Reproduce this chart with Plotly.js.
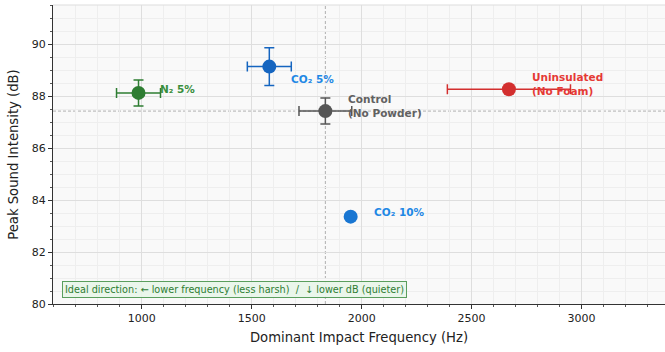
<!DOCTYPE html>
<html>
<head>
<meta charset="utf-8">
<script src="https://cdn.plot.ly/plotly-3.0.1.min.js"></script>
<style>html,body{margin:0;padding:0;background:#fff;}#chart{width:665px;height:352px;}</style>
</head>
<body>
<div id="chart"></div>
<script>
const labels = ['N₂ 5%', 'CO₂ 5%', 'Control<br>(No Powder)', 'Uninsulated<br>(No Foam)', 'CO₂ 10%'];
const freq = [985, 1580, 1835, 2670, 1950];
const freqErr = [100, 100, 120, 280, 0];
const db = [88.12, 89.13, 87.42, 88.26, 83.36];
const dbErr = [0.5, 0.73, 0.5, 0, 0];
const markerColors = ['#2e7d32', '#1565c0', '#555555', '#d32f2f', '#1976d2'];
const labelColors = ['#388e3c', '#1e88e5', '#616161', '#e53935', '#1e88e5'];
const labelShift = [[19, 4], [20, -12], [21, 5], [21, 5], [21, 5]];
const controlIdx = 2;
const xTicks = [1000, 1500, 2000, 2500, 3000];
const yTicks = [80, 82, 84, 86, 88, 90];
const noteText = 'Ideal direction: ← lower frequency (less harsh)  /  ↓ lower dB (quieter)';

const font = 'DejaVu Sans, sans-serif';
const traces = labels.map((lab, i) => ({
  type: 'scatter', mode: 'markers',
  x: [freq[i]], y: [db[i]],
  marker: {size: 14, color: markerColors[i]},
  error_x: {type: 'data', array: [freqErr[i]], visible: freqErr[i] > 0, color: markerColors[i], thickness: 1.5, width: 5},
  error_y: {type: 'data', array: [dbErr[i]], visible: dbErr[i] > 0, color: markerColors[i], thickness: 1.5, width: 5},
  showlegend: false, hoverinfo: 'skip'
}));

const annotations = labels.map((lab, i) => ({
  x: freq[i], y: db[i], xref: 'x', yref: 'y', text: '<b>' + lab + '</b>',
  showarrow: false, xanchor: 'left', yanchor: 'middle', align: 'left',
  xshift: labelShift[i][0], yshift: labelShift[i][1],
  font: {family: font, size: 10.5, color: labelColors[i]}
}));
annotations.push({
  xref: 'paper', yref: 'paper', x: 0.015, y: 0.048, xanchor: 'left', yanchor: 'middle',
  text: noteText, showarrow: false,
  font: {family: font, size: 9.7, color: '#2e7d32'},
  bgcolor: 'rgba(232,245,233,0.9)', bordercolor: '#5a9e5d', borderwidth: 1, borderpad: 2
});

const layout = {
  width: 665, height: 352,
  margin: {l: 53, r: 0, t: 5, b: 48},
  paper_bgcolor: '#ffffff', plot_bgcolor: '#f9f9f9',
  font: {family: font, size: 11, color: '#222'},
  xaxis: {
    range: [596, 3380], tickvals: xTicks, showgrid: true, gridcolor: '#dedede', gridwidth: 1,
    zeroline: false, showline: true, linecolor: '#333', linewidth: 1,
    ticks: 'outside', ticklen: 4, tickcolor: '#333',
    minor: {dtick: 100, tick0: 0, showgrid: true, gridcolor: '#eeeeee', ticks: 'outside', ticklen: 2, tickcolor: '#555'},
    title: {text: 'Dominant Impact Frequency (Hz)', font: {family: font, size: 13.2, color: '#222'}, standoff: 8},
    tickfont: {family: font, size: 11, color: '#222'}
  },
  yaxis: {
    range: [80, 91.5], tickvals: yTicks, showgrid: true, gridcolor: '#dedede', gridwidth: 1,
    zeroline: false, showline: true, linecolor: '#333', linewidth: 1,
    ticks: 'outside', ticklen: 4, tickcolor: '#333',
    minor: {dtick: 0.5, tick0: 0, showgrid: true, gridcolor: '#eeeeee', ticks: 'outside', ticklen: 2, tickcolor: '#555'},
    title: {text: 'Peak Sound Intensity (dB)', font: {family: font, size: 13.2, color: '#222'}, standoff: 10},
    tickfont: {family: font, size: 11, color: '#222'}
  },
  shapes: [
    {type: 'line', xref: 'x', yref: 'paper', x0: freq[controlIdx], x1: freq[controlIdx], y0: 0, y1: 1,
     line: {color: '#b0b0b0', width: 1, dash: '3px,2px'}, layer: 'below'},
    {type: 'line', xref: 'paper', yref: 'y', x0: 0, x1: 1, y0: db[controlIdx], y1: db[controlIdx],
     line: {color: '#b0b0b0', width: 1, dash: '3px,2px'}, layer: 'below'},
    {type: 'line', xref: 'paper', yref: 'paper', x0: 0, x1: 1, y0: 1, y1: 1,
     line: {color: '#dddddd', width: 1}}
  ],
  annotations: annotations
};
Plotly.newPlot('chart', traces, layout, {staticPlot: true, displayModeBar: false});
</script>
</body>
</html>
